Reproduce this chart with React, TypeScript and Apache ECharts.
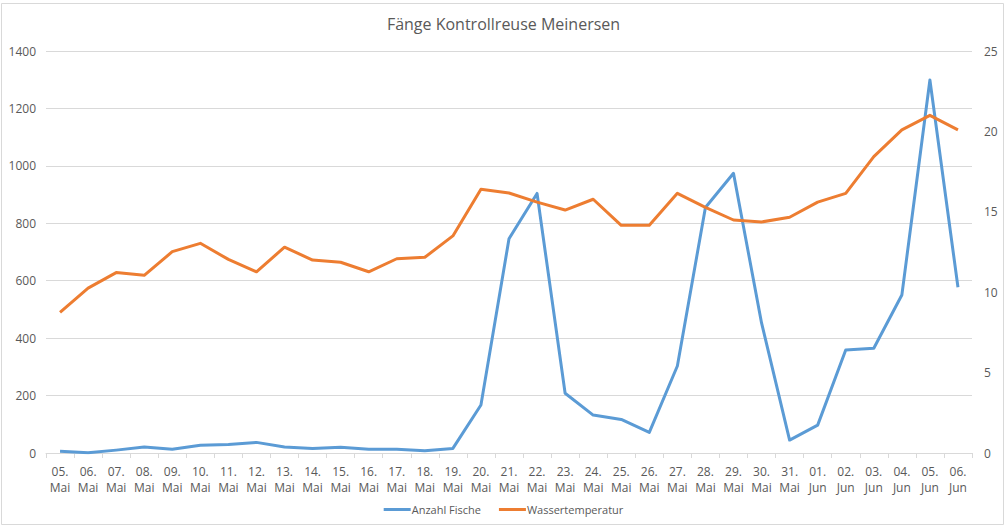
import React, { useEffect, useRef } from "react";
import * as echarts from "echarts";

const categories = [
  "05. Mai", "06. Mai", "07. Mai", "08. Mai", "09. Mai", "10. Mai", "11. Mai", "12. Mai",
  "13. Mai", "14. Mai", "15. Mai", "16. Mai", "17. Mai", "18. Mai", "19. Mai", "20. Mai",
  "21. Mai", "22. Mai", "23. Mai", "24. Mai", "25. Mai", "26. Mai", "27. Mai", "28. Mai",
  "29. Mai", "30. Mai", "31. Mai", "01. Jun", "02. Jun", "03. Jun", "04. Jun", "05. Jun",
  "06. Jun",
];

const anzahlFische = [
  6, 1, 10, 21, 13, 27, 30, 37, 21, 16, 20, 13, 13, 8, 16, 167,
  746, 904, 208, 132, 117, 72, 303, 855, 974, 453, 45, 97, 359, 365, 550, 1299,
  577,
];

const wassertemperatur = [
  8.75, 10.25, 11.22, 11.05, 12.52, 13.04, 12.04, 11.27, 12.8, 12.0, 11.86, 11.27, 12.08, 12.17, 13.5, 16.4,
  16.17, 15.6, 15.11, 15.78, 14.16, 14.16, 16.15, 15.28, 14.49, 14.37, 14.66, 15.6, 16.15, 18.43, 20.09, 21.0,
  20.09,
];

const leftTicks = { min: 0, max: 1400, interval: 200 };
const rightTicks = { min: 0, max: 25, interval: 5 };

const FONT = "'Open Sans', 'Noto Sans', sans-serif";
const TXT = "#595959";
const GRID = "#d9d9d9";

export default function App() {
  const ref = useRef<HTMLDivElement>(null);

  useEffect(() => {
    document.body.style.margin = "0";
    if (!ref.current) return;
    const chart = echarts.init(ref.current, undefined, { renderer: "svg" });
    chart.setOption({
      animation: false,
      backgroundColor: "#ffffff",
      textStyle: { fontFamily: FONT },
      title: {
        text: "Fänge Kontrollreuse Meinersen",
        left: "center",
        top: 11,
        textStyle: { fontFamily: FONT, fontSize: 16, fontWeight: "normal", color: TXT },
      },
      legend: {
        bottom: 12,
        left: "center",
        itemWidth: 27,
        itemHeight: 3,
        itemGap: 18,
        icon: "rect",
        textStyle: { fontFamily: FONT, fontSize: 11, color: TXT, padding: [0, 0, 0, -4] },
        data: ["Anzahl Fische", "Wassertemperatur"],
      },
      grid: { left: 46, right: 35, top: 51, bottom: 79, containLabel: false },
      xAxis: {
        type: "category",
        data: categories,
        boundaryGap: true,
        axisLine: { show: true, lineStyle: { color: GRID, width: 1 } },
        axisTick: { show: true, length: 5, lineStyle: { color: GRID } },
        axisLabel: {
          interval: 0,
          color: TXT,
          fontFamily: FONT,
          fontSize: 12,
          lineHeight: 16,
          margin: 10,
          formatter: (v: string) => v.replace(" ", "\n"),
        },
        splitLine: { show: false },
      },
      yAxis: [
        {
          type: "value",
          ...leftTicks,
          axisLine: { show: false },
          axisTick: { show: false },
          axisLabel: { color: TXT, fontFamily: FONT, fontSize: 12, margin: 10, formatter: (v: number) => String(v) },
          splitLine: { show: true, lineStyle: { color: GRID, width: 1 } },
        },
        {
          type: "value",
          ...rightTicks,
          position: "right",
          axisLine: { show: false },
          axisTick: { show: false },
          axisLabel: { color: TXT, fontFamily: FONT, fontSize: 12, margin: 12, formatter: (v: number) => String(v) },
          splitLine: { show: false },
        },
      ],
      series: [
        {
          name: "Anzahl Fische",
          type: "line",
          yAxisIndex: 0,
          data: anzahlFische,
          symbol: "none",
          color: "#5B9BD5",
          lineStyle: { width: 3, color: "#5B9BD5", join: "round" },
          z: 2,
        },
        {
          name: "Wassertemperatur",
          type: "line",
          yAxisIndex: 1,
          data: wassertemperatur,
          symbol: "none",
          color: "#ED7D31",
          lineStyle: { width: 3, color: "#ED7D31", join: "round" },
          z: 3,
        },
      ],
      graphic: [
        {
          type: "rect",
          shape: { x: 1.5, y: 3.5, width: 1002, height: 521 },
          style: { fill: "none", stroke: "#d9d9d9", lineWidth: 1 },
          silent: true,
          z: -1,
        },
      ],
    });
    return () => chart.dispose();
  }, []);

  return <div ref={ref} style={{ width: 1007, height: 532 }} />;
}
